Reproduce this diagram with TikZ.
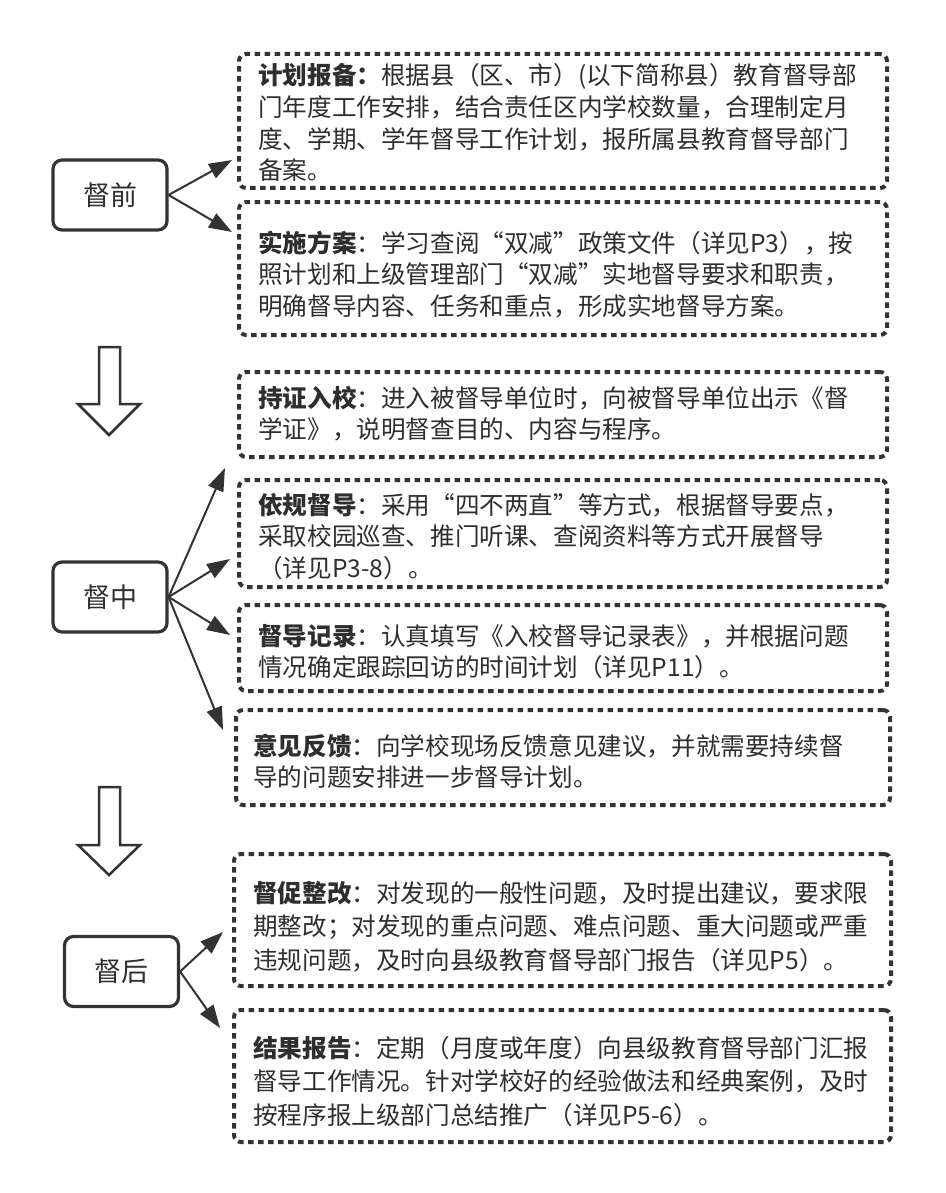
\documentclass[tikz,border=0pt]{standalone}
\usepackage{fontspec}
\newfontfamily\cjk{Noto Sans CJK SC}
\usetikzlibrary{arrows.meta}
\definecolor{ink}{HTML}{333333}
\definecolor{txtc}{HTML}{2E2E2E}
\begin{document}
\begin{tikzpicture}[x=1pt,y=-1pt,
  dbox/.style={draw=ink, line width=4pt, dash pattern=on 5.5pt off 4.5pt, rounded corners=7pt, anchor=north west, inner sep=0pt},
  sbox/.style={draw=ink, line width=3.2pt, rounded corners=9pt, minimum width=114pt, minimum height=70pt, inner sep=0pt, font=\cjk\fontsize{27}{30}\selectfont, text=txtc},
  txt/.style={anchor=base west, inner sep=0pt, text width=640pt, align=left, font=\cjk\fontsize{24.6}{31.6}\selectfont, text=txtc},
  txtb/.style={txt, font=\cjk\fontsize{24.6}{33.6}\selectfont},
  arr/.style={draw=ink, line width=2pt, -{Triangle[length=23pt,width=16pt]}},
  blk/.style={draw=ink, line width=2.5pt, line join=miter}
]
\useasboundingbox[fill=white] (0,0) rectangle (945,1193);

% dotted boxes
\node[dbox, minimum width=648pt, minimum height=134pt] (b1) at (237,52) {};
\node[dbox, minimum width=648pt, minimum height=133pt] (b2) at (237,200) {};
\node[dbox, minimum width=648pt, minimum height=85pt] (b3) at (237,370) {};
\node[dbox, minimum width=648pt, minimum height=107pt] (b4) at (237,478) {};
\node[dbox, minimum width=648pt, minimum height=86pt] (b5) at (237,603) {};
\node[dbox, minimum width=654pt, minimum height=95pt] (b6) at (234,708) {};
\node[dbox, minimum width=657pt, minimum height=132pt] (b7) at (232,852) {};
\node[dbox, minimum width=657pt, minimum height=132pt] (b8) at (232,1008) {};

% texts
\node[txt] (t1) at (258,85) {\textbf{计划报备：}根据县（区、市）(以下简称县）教育督导部\\门年度工作安排，结合责任区内学校数量，合理制定月\\度、学期、学年督导工作计划，报所属县教育督导部门\\备案。};
\node[txt] (t2) at (258,252) {\textbf{实施方案}：学习查阅“双减”政策文件（详见P3），按\\照计划和上级管理部门“双减”实地督导要求和职责，\\明确督导内容、任务和重点，形成实地督导方案。};
\node[txt] (t3) at (258,407) {\textbf{持证入校}：进入被督导单位时，向被督导单位出示《督\\学证》，说明督查目的、内容与程序。};
\node[txt] (t4) at (258,514) {\textbf{依规督导}：采用“四不两直”等方式，根据督导要点，\\采取校园巡查、推门听课、查阅资料等方式开展督导\\（详见P3-8）。};
\node[txt] (t5) at (258,645) {\textbf{督导记录}：认真填写《入校督导记录表》，并根据问题\\情况确定跟踪回访的时间计划（详见P11）。};
\node[txt] (t6) at (253,755) {\textbf{意见反馈}：向学校现场反馈意见建议，并就需要持续督\\导的问题安排进一步督导计划。};
\node[txtb] (t7) at (253,902) {\textbf{督促整改}：对发现的一般性问题，及时提出建议，要求限\\期整改；对发现的重点问题、难点问题、重大问题或严重\\违规问题，及时向县级教育督导部门报告（详见P5）。};
\node[txtb] (t8) at (253,1057) {\textbf{结果报告}：定期（月度或年度）向县级教育督导部门汇报\\督导工作情况。针对学校好的经验做法和经典案例，及时\\按程序报上级部门总结推广（详见P5-6）。};

% phase boxes
\node[sbox] (q1) at (110,195) {督前};
\node[sbox] (q2) at (110,597) {督中};
\node[sbox] (q3) at (121.5,971.5) {督后};

% arrow tips
\coordinate (a1) at (232,160);
\coordinate (a2) at (232,232);
\coordinate (a3) at (225,468);
\coordinate (a4) at (230,559);
\coordinate (a5) at (230,635);
\coordinate (a6) at (223,730);
\coordinate (a7) at (223,932);
\coordinate (a8) at (220,1028);

\draw[arr] (q1.east) -- (a1);
\draw[arr] (q1.east) -- (a2);
\draw[arr] (q2.east) -- (a3);
\draw[arr] (q2.east) -- (a4);
\draw[arr] (q2.east) -- (a5);
\draw[arr] (q2.east) -- (a6);
\draw[arr] (q3.east) -- (a7);
\draw[arr] (q3.east) -- (a8);

% block down arrows
\draw[blk] (99,347) -- (120,347) -- (120,404) -- (140,404) -- (109,435) -- (78,404) -- (99,404) -- cycle;
\draw[blk] (99,787) -- (120,787) -- (120,845) -- (140,845) -- (109,875) -- (78,845) -- (99,845) -- cycle;
\end{tikzpicture}
\end{document}
